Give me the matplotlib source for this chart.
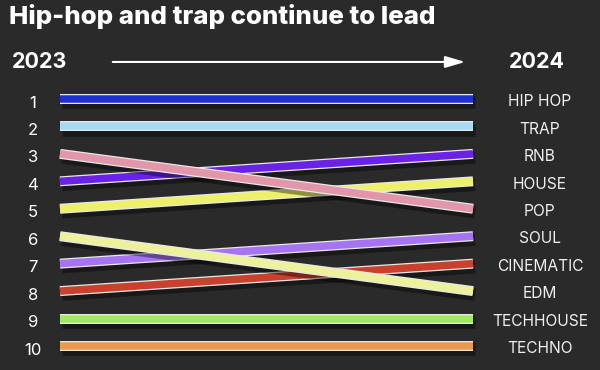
import matplotlib.pyplot as plt
import matplotlib.patheffects as pe

# ranks: genre -> (rank 2023, rank 2024)
genres = ['HIP HOP', 'TRAP', 'RNB', 'HOUSE', 'POP', 'SOUL', 'CINEMATIC', 'EDM', 'TECHHOUSE', 'TECHNO']
rank2023 = [1, 2, 4, 5, 3, 7, 8, 6, 9, 10]
rank2024 = [1, 2, 3, 4, 5, 6, 7, 8, 9, 10]
colors = ['#1f2fd8', '#a9daf4', '#6a22e6', '#eef06a', '#e196aa',
          '#a673f2', '#c9402c', '#eef19c', '#a2e863', '#e9984c']
rankLabels = [str(r) for r in range(1, 11)]

BG = '#2a2a2a'

fig = plt.figure(figsize=(6, 3.7), dpi=100, facecolor=BG)
ax = fig.add_axes([0, 0, 1, 1])
ax.set_facecolor(BG)
ax.set_xlim(-0.1453, 1.3075)
ax.set_ylim(10.876, -2.608)
ax.axis('off')

outline = [pe.SimpleLineShadow(offset=(1.5, -2.5), shadow_color='black', alpha=0.4, linewidth=9),
           pe.Stroke(linewidth=7.2, foreground='#e8e8e8'),
           pe.Normal()]

# better 2023 rank drawn on top
order = sorted(range(len(genres)), key=lambda i: -rank2023[i])
for i in order:
    ax.plot([0, 1], [rank2023[i], rank2024[i]], color=colors[i], lw=5.4,
            solid_capstyle='butt', path_effects=outline, zorder=3)

for i, lab in enumerate(rankLabels):
    ax.text(-0.065, i + 1.15, lab, color='white', fontsize=12,
            ha='center', va='center', family='Inter')

for g, r in zip(genres, rank2024):
    ax.text(1.162, r + 0.1, g, color='#f0f0f0', fontsize=11.2,
            ha='center', va='center', family='Inter')

ax.text(-0.123, -2.02, 'Hip-hop and trap continue to lead', color='white',
        fontsize=18.6, fontweight='heavy', ha='left', va='center', family='Inter')
ax.text(-0.05, -0.35, '2023', color='white', fontsize=15.5, fontweight='bold',
        ha='center', va='center', family='Inter')
ax.text(1.155, -0.35, '2024', color='white', fontsize=15.5, fontweight='bold',
        ha='center', va='center', family='Inter')
ax.annotate('', xy=(0.988, -0.35), xytext=(0.121, -0.35),
            arrowprops=dict(arrowstyle='-|>,head_length=1.2,head_width=0.35',
                            color='white', lw=1.5))

fig.savefig('out.png', dpi=100, facecolor=BG)
